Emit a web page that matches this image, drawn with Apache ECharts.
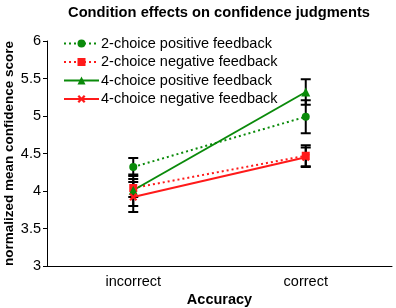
<!DOCTYPE html>
<html>
<head>
<meta charset="utf-8">
<script src="https://cdn.jsdelivr.net/npm/echarts@6/dist/echarts.min.js"></script>
<style>
  html, body { margin: 0; padding: 0; background: #fff; }
  #chart { width: 396px; height: 308px; }
</style>
</head>
<body>
<div id="chart"></div>
<script>
const categories = ['incorrect', 'correct']
const yTicks = [3, 3.5, 4, 4.5, 5, 5.5, 6]

const twoPos = [4.32, 4.99]
const twoPosErr = [0.12, 0.22]
const twoNeg = [4.04, 4.47]
const twoNegErr = [0.12, 0.14]
const fourPos = [4.01, 5.32]
const fourPosErr = [0.21, 0.17]
const fourNeg = [3.92, 4.45]
const fourNegErr = [0.2, 0.13]

const GREEN = '#0a8a0a'
const RED = '#ff1a1a'
const X_PATH = 'path://M0,2L2,0L5,3L8,0L10,2L7,5L10,8L8,10L5,7L2,10L0,8L3,5Z'

// rows for the error bars: [category index, low, high]
const errRows = []
;[[twoPos, twoPosErr], [twoNeg, twoNegErr], [fourPos, fourPosErr], [fourNeg, fourNegErr]].forEach(([m, e]) => {
  m.forEach((v, i) => errRows.push([i, v - e[i], v + e[i]]))
})

const chart = echarts.init(document.getElementById('chart'))

function lineSeries(name, data, color, dashed, symbol, size) {
  return {
    name: name,
    type: 'line',
    data: data,
    symbol: symbol,
    symbolSize: size,
    z: 5,
    itemStyle: { color: color },
    lineStyle: { color: color, width: 2, type: dashed ? [2, 3] : 'solid' }
  }
}

const option = {
  animation: false,
  textStyle: { fontFamily: 'Liberation Sans, Arial, sans-serif' },
  title: {
    text: 'Condition effects on confidence judgments',
    left: 214,
    textAlign: 'center',
    top: 0,
    textStyle: { fontSize: 14.7, fontWeight: 'bold', color: '#000' }
  },
  legend: {
    orient: 'vertical',
    left: 63,
    top: 36,
    padding: 0,
    itemWidth: 35,
    itemHeight: 10,
    itemGap: 3.5,
    textStyle: { fontSize: 14.5, color: '#000', padding: [0, 0, 0, -3] },
    data: ['2-choice positive feedback', '2-choice negative feedback', '4-choice positive feedback', '4-choice negative feedback']
  },
  grid: { left: 47, right: 4, top: 41, bottom: 42, containLabel: false, outerBoundsMode: 'none' },
  xAxis: {
    type: 'category',
    data: categories,
    name: 'Accuracy',
    nameLocation: 'middle',
    nameGap: 26,
    nameMoveOverlap: false,
    nameTextStyle: { fontSize: 14.5, fontWeight: 'bold', color: '#000' },
    axisLine: { lineStyle: { color: '#000', width: 1 } },
    axisTick: { lineStyle: { color: '#000' }, length: 4 },
    axisLabel: { fontSize: 14.5, color: '#000', margin: 8 }
  },
  yAxis: {
    type: 'value',
    min: 3,
    max: 6,
    interval: 0.5,
    name: 'normalized mean confidence score',
    nameLocation: 'middle',
    nameGap: 31,
    nameMoveOverlap: false,
    nameTextStyle: { fontSize: 13.5, fontWeight: 'bold', color: '#000' },
    splitLine: { show: false },
    axisLine: { show: true, lineStyle: { color: '#000', width: 1 } },
    axisTick: { show: true, lineStyle: { color: '#000' }, length: 4 },
    axisLabel: {
      fontSize: 14.5, color: '#000', margin: 6,
      formatter: v => yTicks.includes(v) ? String(v) : ''
    }
  },
  series: [
    {
      type: 'custom',
      z: 2,
      silent: true,
      data: errRows,
      renderItem: function (params, api) {
        const lo = api.coord([api.value(0), api.value(1)])
        const hi = api.coord([api.value(0), api.value(2)])
        const w = 5
        const st = { stroke: '#000', lineWidth: 2 }
        return {
          type: 'group',
          children: [
            { type: 'line', shape: { x1: lo[0], y1: lo[1], x2: hi[0], y2: hi[1] }, style: st },
            { type: 'line', shape: { x1: lo[0] - w, y1: lo[1], x2: lo[0] + w, y2: lo[1] }, style: st },
            { type: 'line', shape: { x1: hi[0] - w, y1: hi[1], x2: hi[0] + w, y2: hi[1] }, style: st }
          ]
        }
      }
    },
    lineSeries('2-choice positive feedback', twoPos, GREEN, true, 'circle', 8),
    lineSeries('2-choice negative feedback', twoNeg, RED, true, 'rect', 8),
    lineSeries('4-choice positive feedback', fourPos, GREEN, false, 'triangle', 9),
    lineSeries('4-choice negative feedback', fourNeg, RED, false, X_PATH, 8)
  ]
}

chart.setOption(option)
</script>
</body>
</html>
